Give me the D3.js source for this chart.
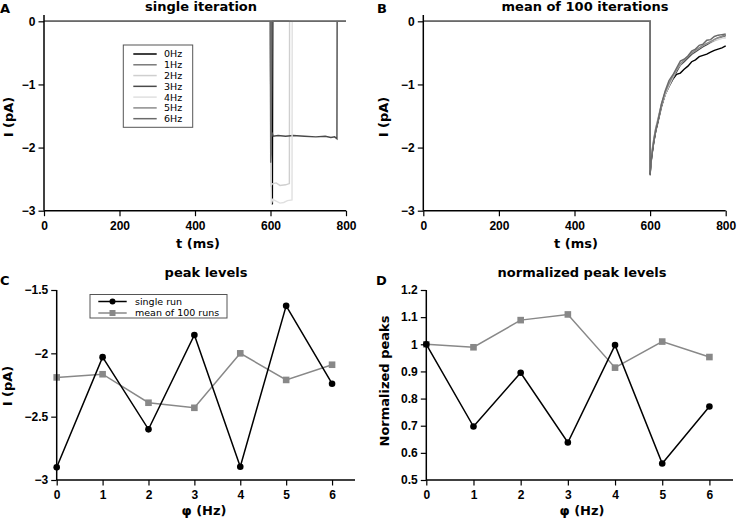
<!DOCTYPE html>
<html><head><meta charset="utf-8">
<script src="https://cdn.jsdelivr.net/npm/d3@7/dist/d3.min.js"></script>
<style>
body{margin:0;background:#fff;}
svg{display:block;font-family:"DejaVu Sans",sans-serif;}
.tick text{font-weight:bold;font-size:12px;fill:#000;}
.lbl{font-weight:bold;font-size:13px;}
.ttl{font-weight:bold;font-size:13px;}
.leg{font-size:9.5px;}
</style></head><body>
<svg id="c" width="738" height="522"></svg>
<script>
// ---------- DATA ----------
const freqLabels = ["0Hz","1Hz","2Hz","3Hz","4Hz","5Hz","6Hz"];
const traceColors = ["#000000","#7a7a7a","#cfcfcf","#4a4a4a","#e0e0e0","#8c8c8c","#6a6a6a"];

// Panel A: single iteration traces [t (ms), I (pA)]
const single0Hz = [[0,0],[600,0],[601,-2.2],[603,-2.6],[605,-2.9],[606,0],[800,0]];
const single1Hz = [[0,0],[600,0],[600.5,-2.03],[602,-1.9],[603,0],[800,0]];
const single2Hz = [[0,0],[600,0],[601,-2.6],[606,-2.57],[615,-2.56],[625,-2.6],[640,-2.59],[650,-2.57],[650.5,0],[800,0]];
const single3Hz = [[0,0],[600,0],[601,-1.86],[604,-1.76],[607,-1.82],[620,-1.81],[640,-1.82],[660,-1.81],[690,-1.82],[720,-1.83],[745,-1.82],[760,-1.84],[770,-1.83],[776,-1.86],[776.5,0],[800,0]];
const single4Hz = [[0,0],[600,0],[602,-2.89],[606,-2.82],[615,-2.85],[625,-2.88],[635,-2.87],[645,-2.84],[657,-2.83],[657.5,0],[800,0]];
const single5Hz = [[0,0],[600,0],[600.5,-1.63],[602,-1.6],[603,0],[800,0]];
const single6Hz = [[0,0],[600,0],[600.5,-2.24],[602,-2.1],[603,0],[800,0]];
const singleTraces = [single0Hz,single1Hz,single2Hz,single3Hz,single4Hz,single5Hz,single6Hz];

// Panel B: mean of 100 iterations
const meanT = [0,600,600,602,605,610,615,620,630,640,650,660,670,680,690,700,710,720,730,740,750,760,770,780,790,800];
const mean0Hz = [0,0,-2.42,-2.25,-2.1,-1.9,-1.73,-1.6,-1.34,-1.16,-1.03,-0.92,-0.84,-0.82,-0.76,-0.71,-0.64,-0.61,-0.56,-0.54,-0.52,-0.49,-0.46,-0.44,-0.42,-0.39];
const mean1Hz = [0,0,-2.40,-2.22,-2.08,-1.88,-1.70,-1.58,-1.32,-1.12,-1.0,-0.88,-0.78,-0.68,-0.63,-0.57,-0.5,-0.47,-0.43,-0.38,-0.36,-0.33,-0.29,-0.26,-0.25,-0.23];
const mean2Hz = [0,0,-2.38,-2.2,-2.05,-1.85,-1.68,-1.56,-1.3,-1.14,-1.02,-0.9,-0.79,-0.7,-0.64,-0.58,-0.53,-0.49,-0.44,-0.4,-0.37,-0.34,-0.31,-0.29,-0.27,-0.26];
const mean3Hz = [0,0,-2.44,-2.27,-2.12,-1.9,-1.74,-1.62,-1.36,-1.15,-1.02,-0.9,-0.8,-0.69,-0.64,-0.58,-0.52,-0.48,-0.44,-0.4,-0.37,-0.33,-0.3,-0.27,-0.24,-0.22];
const mean4Hz = [0,0,-2.36,-2.18,-2.04,-1.86,-1.7,-1.58,-1.33,-1.16,-1.02,-0.89,-0.77,-0.68,-0.61,-0.55,-0.5,-0.46,-0.42,-0.38,-0.35,-0.32,-0.3,-0.28,-0.27,-0.26];
const mean5Hz = [0,0,-2.41,-2.23,-2.07,-1.86,-1.7,-1.58,-1.33,-1.13,-0.99,-0.87,-0.77,-0.67,-0.62,-0.56,-0.5,-0.46,-0.42,-0.38,-0.35,-0.32,-0.29,-0.26,-0.24,-0.22];
const mean6Hz = [0,0,-2.43,-2.26,-2.1,-1.89,-1.72,-1.6,-1.31,-1.1,-0.94,-0.85,-0.74,-0.63,-0.6,-0.55,-0.47,-0.44,-0.38,-0.36,-0.3,-0.29,-0.24,-0.22,-0.21,-0.2];
const meanTraces = [mean0Hz,mean1Hz,mean2Hz,mean3Hz,mean4Hz,mean5Hz,mean6Hz];

// Panel C / D
const phiHz = [0,1,2,3,4,5,6];
const peakSingle = [-2.90,-2.03,-2.60,-1.855,-2.895,-1.625,-2.24];
const peakMean = [-2.19,-2.165,-2.39,-2.43,-2.0,-2.21,-2.09];
const normSingle = [1.0,0.697,0.895,0.638,0.997,0.561,0.771];
const normMean = [1.0,0.989,1.089,1.110,0.914,1.010,0.953];

const traceTicksX = [0,200,400,600,800];
const traceTicksY = [0,-1,-2,-3];
const peakTicksY = [-1.5,-2,-2.5,-3];
const normTicksY = [1.2,1.1,1.0,0.9,0.8,0.7,0.6,0.5];

// ---------- DRAW ----------
const svg = d3.select("#c");
const fmt = v => { let s = String(+v.toFixed(2)); return s.replace("-", "\u2212"); };

function axes(x, y, xt, yt, yBase, xBase) {
  const gx = svg.append("g").attr("transform", `translate(0,${yBase})`)
    .call(d3.axisBottom(x).tickValues(xt).tickSize(5.5).tickPadding(5).tickFormat(fmt));
  const gy = svg.append("g").attr("transform", `translate(${xBase},0)`)
    .call(d3.axisLeft(y).tickValues(yt).tickSize(5.5).tickPadding(3).tickFormat(fmt));
  [gx, gy].forEach(g => {
    g.select(".domain").attr("stroke", "#000").attr("stroke-width", 1.5);
    g.selectAll(".tick line").attr("stroke", "#000").attr("stroke-width", 1.2);
  });
  gx.select(".domain").attr("d", `M${x.range()[0]},0H${x.range()[1]}`);
  gy.select(".domain").attr("d", `M0,${y.range()[0]}V${y.range()[1]}`);
}

function text(x, y, s, cls, rot) {
  const t = svg.append("text").attr("class", cls).attr("text-anchor", "middle").text(s);
  if (rot) t.attr("transform", `translate(${x},${y}) rotate(-90)`);
  else t.attr("x", x).attr("y", y);
  return t;
}

// Panel A
const xA = d3.scaleLinear().domain([0, 800]).range([44, 346]);
const yA = d3.scaleLinear().domain([-3, 0.1]).range([210.7, 15]);
const lineA = d3.line().x(d => xA(d[0])).y(d => yA(d[1]));
singleTraces.forEach((tr, i) => {
  svg.append("path").attr("d", lineA(tr)).attr("fill", "none")
    .attr("stroke", traceColors[i]).attr("stroke-width", 1.4);
});
axes(xA, yA, traceTicksX, traceTicksY, 210.7, 44);
// legend A
svg.append("rect").attr("x", 123.3).attr("y", 45).attr("width", 69.4).attr("height", 82.3)
  .attr("fill", "#fff").attr("stroke", "#555").attr("stroke-width", 1);
freqLabels.forEach((lab, i) => {
  const yy = 54 + i * 10.78;
  svg.append("line").attr("x1", 133.3).attr("x2", 156.7).attr("y1", yy).attr("y2", yy)
    .attr("stroke", traceColors[i]).attr("stroke-width", 1.5);
  svg.append("text").attr("class", "leg").attr("x", 164).attr("y", yy + 3.4).text(lab);
});
text(201, 11, "single iteration", "ttl");
text(198, 248, "t (ms)", "lbl");
text(13, 117, "I (pA)", "lbl", true);
svg.append("text").attr("class", "ttl").attr("x", 0).attr("y", 13).text("A");

// Panel B
const xB = d3.scaleLinear().domain([0, 800]).range([423.3, 725.7]);
const yB = d3.scaleLinear().domain([-3, 0.1]).range([210.7, 15]);
const lineB = d3.line().x((d, i) => xB(meanT[i])).y(d => yB(d));
meanTraces.forEach((tr, i) => {
  svg.append("path").attr("d", lineB(tr)).attr("fill", "none")
    .attr("stroke", traceColors[i]).attr("stroke-width", 1.4);
});
axes(xB, yB, traceTicksX, traceTicksY, 210.7, 423.3);
text(585, 11, "mean of 100 iterations", "ttl");
text(576, 248, "t (ms)", "lbl");
text(388, 117, "I (pA)", "lbl", true);
svg.append("text").attr("class", "ttl").attr("x", 377).attr("y", 13).text("B");

// markers helper
function series(x, y, xs, ys, color, shape) {
  svg.append("path").attr("d", d3.line().x((d, i) => x(xs[i])).y(d => y(d))(ys))
    .attr("fill", "none").attr("stroke", color).attr("stroke-width", 1.5);
  ys.forEach((v, i) => {
    if (shape === "circle")
      svg.append("circle").attr("cx", x(xs[i])).attr("cy", y(v)).attr("r", 3.3).attr("fill", color);
    else
      svg.append("rect").attr("x", x(xs[i]) - 3.3).attr("y", y(v) - 3.3).attr("width", 6.6).attr("height", 6.6).attr("fill", color);
  });
}

// Panel C
const xC = d3.scaleLinear().domain([0, 6.5]).range([56.7, 355]);
const yC = d3.scaleLinear().domain([-3, -1.5]).range([480, 290]);
series(xC, yC, phiHz, peakMean, "#888888", "square");
series(xC, yC, phiHz, peakSingle, "#000000", "circle");
axes(xC, yC, phiHz, peakTicksY, 480, 56.7);
svg.append("rect").attr("x", 90).attr("y", 294.5).attr("width", 137).attr("height", 23.5)
  .attr("fill", "#fff").attr("stroke", "#555").attr("stroke-width", 1);
[["single run", "#000000", "circle"], ["mean of 100 runs", "#888888", "square"]].forEach((e, i) => {
  const yy = 301.5 + i * 11.5;
  svg.append("line").attr("x1", 98.3).attr("x2", 126.7).attr("y1", yy).attr("y2", yy).attr("stroke", e[1]).attr("stroke-width", 1.5);
  if (e[2] === "circle") svg.append("circle").attr("cx", 112.5).attr("cy", yy).attr("r", 3).attr("fill", e[1]);
  else svg.append("rect").attr("x", 109.5).attr("y", yy - 3).attr("width", 6).attr("height", 6).attr("fill", e[1]);
  svg.append("text").attr("class", "leg").attr("x", 135).attr("y", yy + 3.4).text(e[0]);
});
text(206, 277, "peak levels", "ttl");
text(204, 515, "\u03c6 (Hz)", "lbl");
text(12, 386, "I (pA)", "lbl", true);
svg.append("text").attr("class", "ttl").attr("x", 0).attr("y", 285).text("C");

// Panel D
const xD = d3.scaleLinear().domain([0, 6.5]).range([426.3, 733]);
const yD = d3.scaleLinear().domain([0.5, 1.2]).range([480, 290]);
series(xD, yD, phiHz, normMean, "#888888", "square");
series(xD, yD, phiHz, normSingle, "#000000", "circle");
axes(xD, yD, phiHz, normTicksY, 480, 426.3);
text(582, 277, "normalized peak levels", "ttl");
text(582, 515, "\u03c6 (Hz)", "lbl");
text(389, 381, "Normalized peaks", "lbl", true);
svg.append("text").attr("class", "ttl").attr("x", 376).attr("y", 285).text("D");
</script>
</body></html>
